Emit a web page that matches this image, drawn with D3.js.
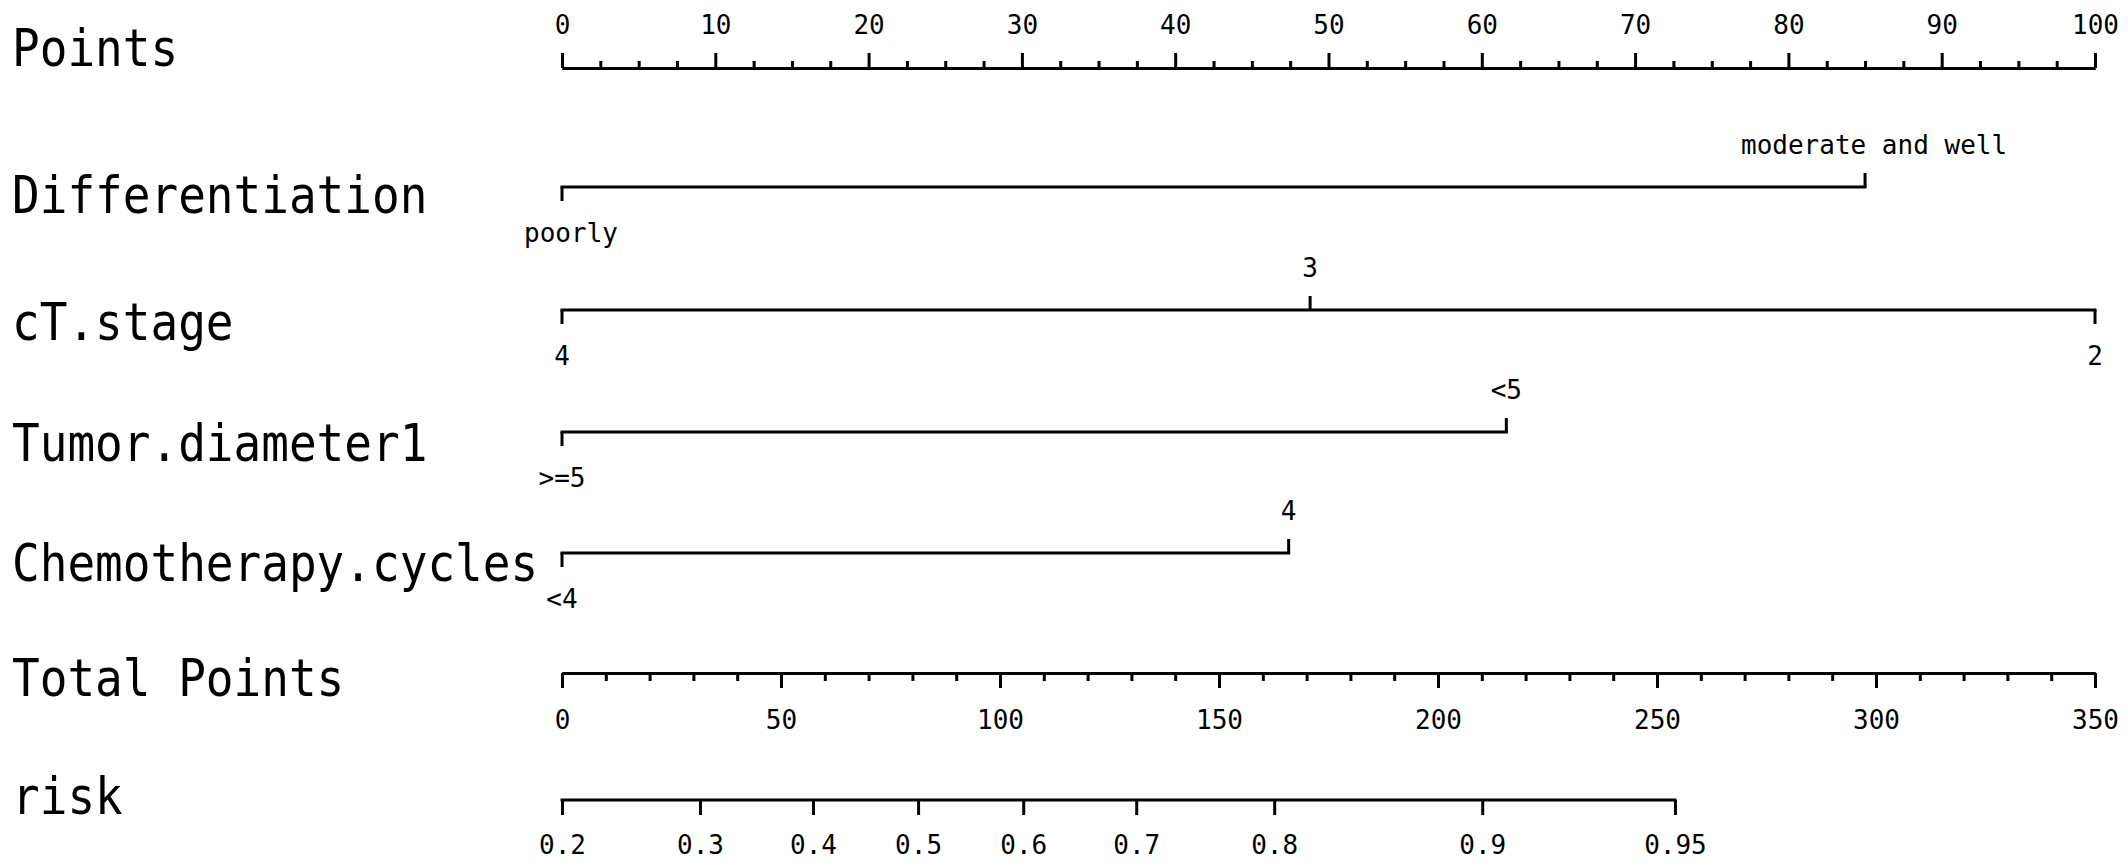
<!DOCTYPE html>
<html>
<head>
<meta charset="utf-8">
<script src="https://cdn.jsdelivr.net/npm/d3@7"></script>
<style>
  html, body { margin: 0; padding: 0; background: #fff; }
  svg { display: block; }
</style>
</head>
<body>
<svg id="chart" width="2128" height="866"></svg>
<script>
// ---------------- data ----------------
const pointsTicks = [0, 10, 20, 30, 40, 50, 60, 70, 80, 90, 100];
const pointsMinorStep = 2.5;

const diffLevels = ["poorly", "moderate and well"];
const diffPoints = [0, 85];

const ctLevels = ["4", "3", "2"];
const ctPoints = [0, 48.8, 100];

const tumorLevels = [">=5", "<5"];
const tumorPoints = [0, 61.6];

const chemoLevels = ["<4", "4"];
const chemoPoints = [0, 47.4];

const totalTicks = [0, 50, 100, 150, 200, 250, 300, 350];
const totalMinorStep = 10;

const riskLabels = ["0.2", "0.3", "0.4", "0.5", "0.6", "0.7", "0.8", "0.9", "0.95"];
const riskTotalPoints = [0, 31.5, 57.3, 81.3, 105.3, 131.1, 162.6, 210.1, 254.1];

const variableNames = ["Points", "Differentiation", "cT.stage", "Tumor.diameter1",
                       "Chemotherapy.cycles", "Total Points", "risk"];

// ---------------- layout ----------------
const W = 2128, H = 866;
const x0 = 562, x1 = 2095;
const rowY = [68, 187, 310, 432, 553, 673, 800];     // axis line y per row
const nameY = [47, 194, 321, 442, 562, 677, 795];    // visual centre of row names
const nameFont = "'DejaVu Sans Mono', 'Liberation Mono', monospace";
const tickFont = "'DejaVu Sans Mono', 'Liberation Mono', monospace";
const lw = 3;
const tickFontSize = 26;

const svg = d3.select("#chart");
svg.append("rect").attr("width", W).attr("height", H).attr("fill", "#fff");

const xPts = d3.scaleLinear().domain([0, 100]).range([x0, x1]);
const xTot = d3.scaleLinear().domain([0, 350]).range([x0, x1]);

// row names
svg.append("g").selectAll("text")
  .data(variableNames)
  .join("text")
  .attr("transform", (d, i) => `translate(12, ${nameY[i] + 19}) scale(1, 1.13)`)
  .attr("font-family", nameFont)
  .attr("font-size", 46)
  .attr("fill", "#000")
  .text(d => d);

function styleAxis(g) {
  g.select(".domain").attr("stroke", "#000").attr("stroke-width", lw);
  g.selectAll(".tick line").attr("stroke", "#000").attr("stroke-width", lw);
  g.selectAll(".tick text")
    .attr("font-family", tickFont)
    .attr("font-size", tickFontSize)
    .attr("fill", "#000");
}

// ---------- Points axis (ticks up) ----------
const ptsMinor = d3.range(0, 100 + 1e-9, pointsMinorStep).filter(v => !pointsTicks.includes(v));
svg.append("g")
  .attr("transform", `translate(0, ${rowY[0]})`)
  .call(d3.axisTop(xPts).tickValues(ptsMinor).tickSize(7).tickSizeOuter(0).tickFormat(""))
  .call(styleAxis);
const gPts = svg.append("g")
  .attr("transform", `translate(0, ${rowY[0]})`)
  .call(d3.axisTop(xPts).tickValues(pointsTicks).tickSize(15).tickSizeOuter(0).tickFormat(d3.format("d")))
  .call(styleAxis);
gPts.selectAll(".tick text").attr("y", -34).attr("dy", "0");

// ---------- categorical rows ----------
const catRows = [
  { levels: diffLevels, pts: diffPoints, row: 1 },
  { levels: ctLevels, pts: ctPoints, row: 2 },
  { levels: tumorLevels, pts: tumorPoints, row: 3 },
  { levels: chemoLevels, pts: chemoPoints, row: 4 }
];
catRows.forEach(r => {
  const y = rowY[r.row];
  const g = svg.append("g").attr("transform", `translate(0, ${y})`);
  const ext = d3.extent(r.pts);
  g.append("line")
    .attr("x1", xPts(ext[0]) - lw / 2).attr("x2", xPts(ext[1]) + lw / 2)
    .attr("y1", 0).attr("y2", 0)
    .attr("stroke", "#000").attr("stroke-width", lw);
  const items = r.levels.map((lab, i) => ({ lab, p: r.pts[i], below: i % 2 === 0 }));
  g.selectAll("line.tk").data(items).join("line")
    .attr("class", "tk")
    .attr("x1", d => xPts(d.p)).attr("x2", d => xPts(d.p))
    .attr("y1", 0).attr("y2", d => d.below ? 14 : -14)
    .attr("stroke", "#000").attr("stroke-width", lw);
  g.selectAll("text").data(items).join("text")
    .attr("x", d => xPts(d.p) + (d.lab.length > 3 ? 9 : 0))
    .attr("y", d => d.below ? 55 : -33)
    .attr("text-anchor", "middle")
    .attr("font-family", tickFont)
    .attr("font-size", tickFontSize)
    .attr("fill", "#000")
    .text(d => d.lab);
});

// ---------- Total Points axis (ticks down) ----------
const totMinor = d3.range(0, 350 + 1e-9, totalMinorStep).filter(v => !totalTicks.includes(v));
svg.append("g")
  .attr("transform", `translate(0, ${rowY[5]})`)
  .call(d3.axisBottom(xTot).tickValues(totMinor).tickSize(8).tickSizeOuter(0).tickFormat(""))
  .call(styleAxis);
const gTot = svg.append("g")
  .attr("transform", `translate(0, ${rowY[5]})`)
  .call(d3.axisBottom(xTot).tickValues(totalTicks).tickSize(15).tickSizeOuter(0).tickFormat(d3.format("d")))
  .call(styleAxis);
gTot.selectAll(".tick text").attr("y", 56).attr("dy", "0");

// ---------- risk axis ----------
const gRisk = svg.append("g")
  .attr("transform", `translate(0, ${rowY[6]})`)
  .call(d3.axisBottom(xTot)
    .tickValues(riskTotalPoints)
    .tickSize(15)
    .tickSizeOuter(0)
    .tickFormat((d, i) => riskLabels[i]))
  .call(styleAxis);
gRisk.select(".domain")
  .attr("d", `M${xTot(d3.min(riskTotalPoints)) - lw / 2},0H${xTot(d3.max(riskTotalPoints)) + lw / 2}`);
gRisk.selectAll(".tick text").attr("y", 54).attr("dy", "0");
</script>
</body>
</html>
